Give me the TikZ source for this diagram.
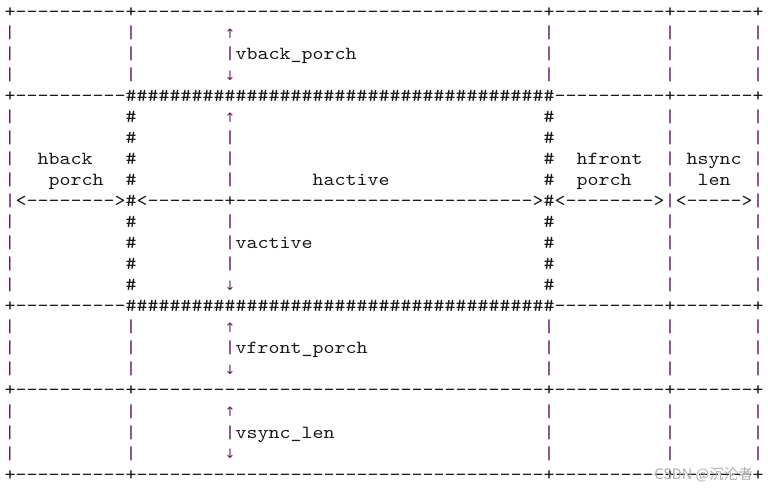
\documentclass[tikz,border=0pt]{standalone}
\usepackage{fontspec}
\setmonofont{lmmono10-regular.otf}[FakeStretch=1.1326]
\newfontfamily\arrowfont{DejaVu Sans}
\newfontfamily\cjkfont{Noto Sans CJK SC}
\usepackage{xcolor}
\definecolor{inkcol}{RGB}{25,25,25}
\definecolor{barcol}{RGB}{105,25,105}
\definecolor{markcol}{RGB}{175,175,175}
\newcommand{\vb}{\textcolor{barcol}{|}}
\newcommand{\chrun}[2]{\foreach\i in {1,...,#1}{#2}}

\begin{document}
\begin{tikzpicture}[x=11pt, y=-21pt,
	chr/.style={inner sep=0pt, anchor=base, yshift=-5pt, text=inkcol,
		font=\ttfamily\fontsize{18.5}{21}\selectfont},
	bar/.style={chr, text=barcol},
	row/.style={chr, anchor=base west},
	arr/.style={inner sep=0pt, text=barcol, font=\arrowfont\fontsize{13}{13}\selectfont},
	wmark/.style={inner sep=0pt, anchor=base east, yshift=-4pt, text=markcol,
		font=\cjkfont\fontsize{14.5}{14.5}\selectfont}]
	\useasboundingbox (-0.909,-0.619) rectangle (68.909,22.619);
	\fill[white] (-0.909,-0.619) rectangle (68.909,22.619);
	% border lines
	\foreach \r/\n in {0/btop,18/bfront,22/bsync}
		\node[row] (\n) at (-0.5,\r) {+\chrun{10}{-}+\chrun{37}{-}+\chrun{10}{-}+\chrun{7}{-}+};
	% active area top and bottom
	\foreach \r/\n in {4/atop,14/abot}
		\node[row] (\n) at (-0.5,\r) {+\chrun{10}{-}\chrun{39}{\#}\chrun{10}{-}+\chrun{7}{-}+};
	% frame columns
	\foreach \r in {1,2,3,15,16,17,19,20,21}
		\foreach \c in {0,11,49,60,68}
			\node[bar] (f-\c-\r) at (\c,\r) {|};
	\foreach \r in {5,6,7,8,10,11,12,13} {
		\node[bar] (f-0-\r) at (0,\r) {|};
		\node[chr] (f-11-\r) at (11,\r) {\#};
		\node[chr] (f-49-\r) at (49,\r) {\#};
		\node[bar] (f-60-\r) at (60,\r) {|};
		\node[bar] (f-68-\r) at (68,\r) {|};
	}
	% vertical measures
	\foreach \r in {1,5,15,19} \node[arr] (up-\r) at (20,\r) {↑};
	\foreach \r in {3,13,17,21} \node[arr] (dn-\r) at (20,\r) {↓};
	\foreach \r in {2,6,7,8,10,11,12,16,20} \node[bar] (m-\r) at (20,\r) {|};
	\node[row] (vback) at (20.5,2) {vback\_porch};
	\node[row] (vactive) at (20.5,11) {vactive};
	\node[row] (vfront) at (20.5,16) {vfront\_porch};
	\node[row] (vsync) at (20.5,20) {vsync\_len};
	% horizontal measures
	\node[row] (hmeas) at (-0.5,9) {\vb<\chrun{8}{-}>\#<\chrun{7}{-}+\chrun{27}{-}>\#<\chrun{8}{-}>\vb<\chrun{5}{-}>\vb};
	\node[row] (hback) at (2.5,7) {hback};
	\node[row] (hbporch) at (3.5,8) {porch};
	\node[row] (hactive) at (27.5,8) {hactive};
	\node[row] (hfront) at (51.5,7) {hfront};
	\node[row] (hfporch) at (51.5,8) {porch};
	\node[row] (hsync) at (61.5,7) {hsync};
	\node[row] (hslen) at (62.5,8) {len};
	% watermark
	\node[wmark] (csdn) at (67.55,22) {CSDN @沉沦者};
\end{tikzpicture}
\end{document}
